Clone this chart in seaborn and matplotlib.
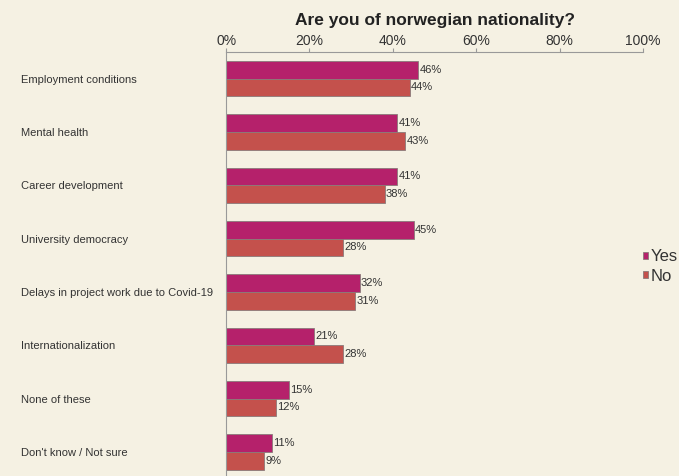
import pandas as pd
import matplotlib.pyplot as plt
import seaborn as sns

categories = ['Employment conditions', 'Mental health', 'Career development',
              'University democracy', 'Delays in project work due to Covid-19',
              'Internationalization', 'None of these', "Don't know / Not sure"]
yes_vals = [46, 41, 41, 45, 32, 21, 15, 11]
no_vals = [44, 43, 38, 28, 31, 28, 12, 9]
x_ticks = [0, 20, 40, 60, 80, 100]

df = pd.DataFrame({
    'Category': categories * 2,
    'Value': yes_vals + no_vals,
    'Group': ['Yes'] * len(categories) + ['No'] * len(categories),
})

bg = '#f5f1e3'
sns.set_style('white')
plt.rcParams['font.family'] = ['Liberation Sans', 'DejaVu Sans']

fig = plt.figure(figsize=(6.79, 4.76), dpi=100, facecolor=bg)
ax = fig.add_axes([0.333, 0.0, 0.614, 0.891])
ax.set_facecolor(bg)

sns.barplot(data=df, x='Value', y='Category', hue='Group', orient='h',
            palette={'Yes': '#b5216b', 'No': '#c4514c'}, width=0.66,
            saturation=1, edgecolor='#8a7a7a', linewidth=0.6, ax=ax)

for cont in ax.containers:
    ax.bar_label(cont, fmt='%g%%', padding=1, fontsize=8, color='#333333')

ax.set_xlim(0, 100)
ax.set_ylim(7.45, -0.5)
ax.xaxis.tick_top()
ax.set_xticks(x_ticks)
ax.set_xticklabels([f'{t}%' for t in x_ticks], fontsize=10, color='#333333')
ax.tick_params(axis='x', length=3, color='#999999', pad=0)
ax.set_xlabel('')
ax.set_ylabel('')

ax.set_yticks(range(len(categories)))
ax.set_yticklabels(categories, fontsize=8, color='#333333', ha='left')
ax.tick_params(axis='y', which='major', length=0, pad=148)
ax.set_yticks([i + 0.5 for i in range(len(categories) - 1)], minor=True)
ax.tick_params(axis='y', which='minor', length=3, color='#999999')

for s in ['right', 'bottom']:
    ax.spines[s].set_visible(False)
for s in ['top', 'left']:
    ax.spines[s].set_color('#999999')
    ax.spines[s].set_linewidth(0.8)

ax.set_title('Are you of norwegian nationality?', fontsize=12.5, fontweight='bold',
             pad=19, color='#222222')

handles, labels = ax.get_legend_handles_labels()
ax.legend(handles, labels, loc='center left', bbox_to_anchor=(0.935, 0.44),
          bbox_transform=fig.transFigure, frameon=False, fontsize=12,
          handlelength=0.3, handleheight=0.3, handletextpad=0.15,
          labelspacing=0.25, borderpad=0, labelcolor='#333333')

fig.savefig('out.png', dpi=100, facecolor=bg)
